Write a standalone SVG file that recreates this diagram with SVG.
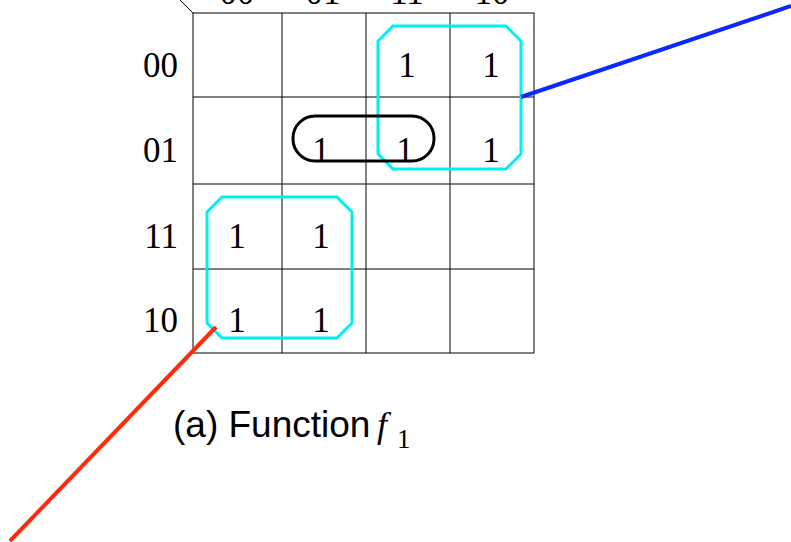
<svg xmlns="http://www.w3.org/2000/svg" width="791" height="542" viewBox="0 0 791 542">
<style>
.g{stroke:#000;stroke-width:1;fill:none}
.t{font-family:"Liberation Serif",serif;font-size:35px;fill:#000}
.cy{fill:none;stroke:#00F0F0;stroke-width:3}
.cap{font-family:"Liberation Sans",sans-serif;font-size:37px;fill:#000}
</style>
<rect width="791" height="542" fill="#fff"/>
<g id="grid">
<rect class="g" x="193" y="13" width="341" height="340"/>
<line class="g" x1="282" y1="13" x2="282" y2="353"/>
<line class="g" x1="366" y1="13" x2="366" y2="353"/>
<line class="g" x1="450" y1="13" x2="450" y2="353"/>
<line class="g" x1="193" y1="97" x2="534" y2="97"/>
<line class="g" x1="193" y1="184" x2="534" y2="184"/>
<line class="g" x1="193" y1="269" x2="534" y2="269"/>
<line class="g" x1="193" y1="13" x2="180" y2="0"/>
</g>
<g id="col-labels" class="t" text-anchor="middle">
<text x="237" y="4">00</text>
<text x="323" y="4">01</text>
<text x="407" y="4">11</text>
<text x="492" y="4">10</text>
</g>
<g id="row-labels" class="t" text-anchor="end">
<text x="178" y="77">00</text>
<text x="178" y="162">01</text>
<text x="178" y="248">11</text>
<text x="178" y="332">10</text>
</g>
<g id="cells" class="t" text-anchor="middle">
<text x="407" y="77">1</text>
<text x="491" y="77">1</text>
<text x="321" y="162">1</text>
<text x="405" y="162">1</text>
<text x="491" y="162">1</text>
<text x="237" y="248">1</text>
<text x="321" y="248">1</text>
<text x="237" y="332">1</text>
<text x="321" y="332">1</text>
</g>
<g id="group-top-right">
<path class="cy" d="M393,26 H506 L521,41 V154 L506,169 H393 L378,154 V41 Z"/>
</g>
<g id="group-bottom-left">
<path class="cy" d="M222,197 H337 L352,212 V323 L337,338 H222 L207,323 V212 Z"/>
</g>
<g id="group-pair">
<rect x="293" y="116" width="141" height="45" rx="22" ry="22" fill="none" stroke="#000" stroke-width="3"/>
</g>
<g id="connectors">
<line x1="521" y1="97" x2="791" y2="6" stroke="#0A28FF" stroke-width="4"/>
<line x1="216" y1="327" x2="10" y2="541" stroke="#FF2A0A" stroke-width="4"/>
</g>
<g id="caption">
<text class="cap" x="173" y="437">(a) Function</text>
<text x="377" y="437" font-family="Liberation Serif,serif" font-style="italic" font-size="36">f</text>
<text x="397" y="448" font-family="Liberation Serif,serif" font-size="27">1</text>
</g>
</svg>
